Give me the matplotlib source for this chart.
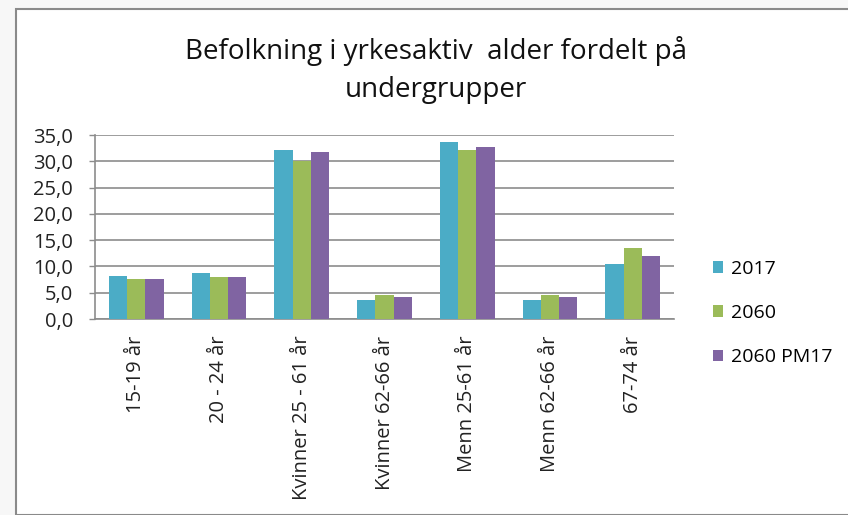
import matplotlib.pyplot as plt
from matplotlib.patches import Rectangle
import numpy as np

plt.rcParams['font.family'] = ['Open Sans', 'DejaVu Sans']

# kategorier og verdier
kategorier = ["15-19 år", "20 - 24 år", "Kvinner 25 - 61 år", "Kvinner 62-66 år",
              "Menn 25-61 år", "Menn 62-66 år", "67-74 år"]
v2017 = [8.2, 8.7, 32.1, 3.7, 33.7, 3.7, 10.4]
v2060 = [7.7, 7.9, 30.1, 4.5, 32.1, 4.5, 13.6]
v2060_pm17 = [7.7, 7.9, 31.8, 4.2, 32.7, 4.2, 12.0]

serier = ["2017", "2060", "2060 PM17"]
farger = ["#4BACC6", "#9BBB59", "#8064A2"]

fig = plt.figure(figsize=(8.48, 5.15), dpi=100)
fig.patch.set_facecolor("#f7f7f7")

# ramme rundt diagrammet
ramme = Rectangle((16 / 848, 0), 1.0, 1 - 9 / 515, transform=fig.transFigure,
                  facecolor="white", edgecolor="#8a8a8a", linewidth=1.5, zorder=0)
fig.patches.append(ramme)

ax = fig.add_axes([95 / 848, (515 - 319) / 515, (674 - 95) / 848, (319 - 135) / 515])
ax.set_zorder(2)
ax.set_facecolor("white")

x = np.arange(len(kategorier))
bredde = 0.22
for i, (verdier, navn, farge) in enumerate(zip([v2017, v2060, v2060_pm17], serier, farger)):
    ax.bar(x + (i - 1) * bredde, verdier, bredde, color=farge, label=navn, zorder=3)

ax.set_ylim(0, 35)
ax.set_xlim(-0.5, len(kategorier) - 0.5)
ax.set_yticks(np.arange(0, 36, 5))
ax.set_yticklabels([f"{v:.1f}".replace(".", ",") for v in np.arange(0, 36, 5)])
ax.yaxis.grid(True, color="#8c8c8c", linewidth=1.2, zorder=0)
ax.set_axisbelow(True)

ax.set_xticks(x)
ax.set_xticklabels(kategorier, rotation=90, va="top", ha="center")
ax.tick_params(axis="x", length=0, pad=12, labelsize=14.5, colors="#222222")
ax.tick_params(axis="y", length=4, width=1, color="#8c8c8c", pad=12, labelsize=14.5,
               labelcolor="#222222")

for side in ["top", "right"]:
    ax.spines[side].set_visible(False)
ax.spines["left"].set_color("#8c8c8c")
ax.spines["bottom"].set_color("#8c8c8c")
ax.spines["left"].set_linewidth(1.2)
ax.spines["bottom"].set_linewidth(1.2)

fig.text(436 / 848, 1 - 70 / 515, "Befolkning i yrkesaktiv  alder fordelt på\nundergrupper",
         ha="center", va="center", fontsize=20, linespacing=1.5, color="#111111")

fig.legend(loc="center left", bbox_to_anchor=(695 / 848, 1 - 313 / 515), frameon=False,
           fontsize=14, handlelength=0.55, handleheight=0.55, handletextpad=0.4,
           labelspacing=1.35)

fig.savefig("out.png", dpi=100, facecolor=fig.get_facecolor())
